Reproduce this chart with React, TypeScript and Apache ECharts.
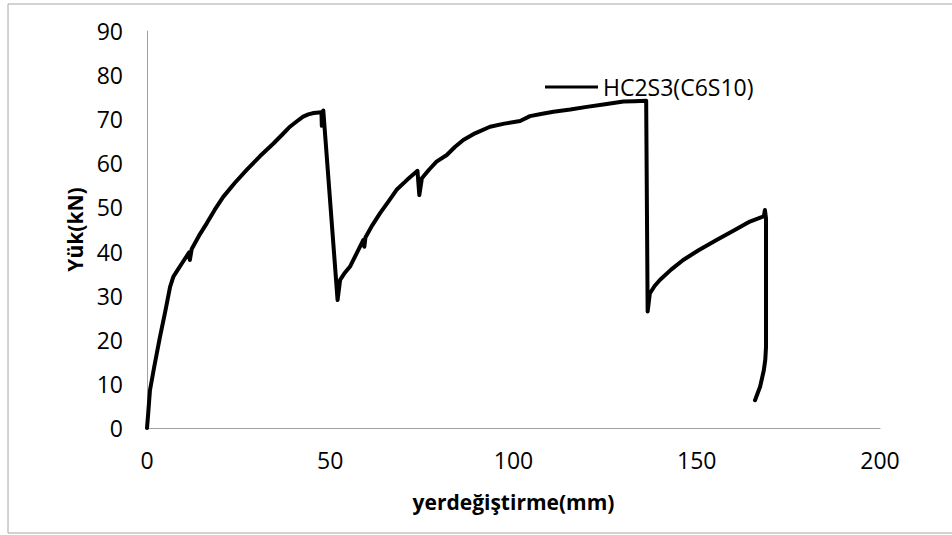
import React, { useEffect, useRef } from "react";
import * as echarts from "echarts";

const seriesName = "HC2S3(C6S10)";
const xTicks = [0, 50, 100, 150, 200];
const yTicks = [0, 10, 20, 30, 40, 50, 60, 70, 80, 90];

// displacement (mm)
const dispValues = [
  0, 0.3, 0.8, 2.0, 3.5, 5.0, 6.3, 7.2, 9.5, 11.5, 11.7, 12.2, 14.2, 16.3, 18.5, 20.8, 24, 27.2, 30.8, 34.5, 37, 39.0, 41, 42.6, 44, 45.5, 47.6, 47.7, 48.1,
  52.0, 52.7, 54, 55.4, 57.2, 59.0, 59.3, 59.6, 61.5, 63.6, 66, 68.1, 70.9, 73.8, 74.3, 75.0, 77, 79.0, 81.8, 84, 86.3, 89.5, 93.6, 97.5, 101.8, 104.5, 107.5, 110.9, 115.5, 120.0, 125, 130.0, 133, 136.2,
  136.6, 137.2, 138.5, 140.0, 143, 146.3, 150.5, 155.4, 160, 164.5, 166.8, 168.3, 168.6, 168.9, 168.9, 168.9, 168.7, 168.3, 167.3, 165.9,
];
// load (kN)
const loadValues = [
  0, 3, 8.5, 14.0, 20.5, 26.5, 32.0, 34.3, 37.3, 39.8, 38.1, 40.6, 43.6, 46.4, 49.5, 52.4, 55.6, 58.5, 61.6, 64.5, 66.6, 68.3, 69.6, 70.6, 71.1, 71.4, 71.6, 68.5, 72.0,
  29.0, 33.6, 35.2, 36.6, 39.6, 42.6, 41.1, 43.2, 46.0, 48.7, 51.5, 54.0, 56.2, 58.3, 52.8, 56.6, 58.6, 60.4, 61.9, 63.7, 65.3, 66.8, 68.3, 69.0, 69.6, 70.7, 71.2, 71.7, 72.2, 72.8, 73.4, 74.0, 74.1, 74.2,
  26.4, 30.5, 32.2, 33.6, 35.9, 38.1, 40.3, 42.6, 44.7, 46.8, 47.5, 48.0, 49.4, 47.5, 30.0, 18.4, 15.5, 13.1, 9.4, 6.3,
];

export default function App() {
  const ref = useRef<HTMLDivElement>(null);
  useEffect(() => {
    if (!ref.current) return;
    const chart = echarts.init(ref.current, null, { renderer: "svg" });
    const font = "'Open Sans', sans-serif";
    const data = dispValues.map((x, i) => [x, loadValues[i]]);
    chart.setOption({
      animation: false,
      backgroundColor: "#ffffff",
      graphic: [
        {
          type: "rect",
          shape: { x: 8, y: 4, width: 960, height: 529 },
          style: { fill: "none", stroke: "#a6a6a6", lineWidth: 1 },
          silent: true,
        },
      ],
      grid: { left: 147, right: 72, top: 31, bottom: 107, containLabel: false },
      legend: {
        data: [seriesName],
        left: 540,
        top: 67,
        icon: "rect",
        itemWidth: 53,
        itemHeight: 3,
        itemGap: 6,
        textStyle: { fontFamily: font, fontSize: 23, color: "#000", lineHeight: 30 },
      },
      xAxis: {
        type: "value",
        min: xTicks[0],
        max: xTicks[xTicks.length - 1],
        interval: 50,
        name: "yerdeğiştirme(mm)",
        nameLocation: "middle",
        nameGap: 63,
        nameTextStyle: { fontFamily: font, fontSize: 21, fontWeight: "bold", color: "#000" },
        axisLine: { show: true, lineStyle: { color: "#a0a0a0", width: 1 } },
        axisTick: { show: false },
        splitLine: { show: false },
        axisLabel: { fontFamily: font, fontSize: 23, color: "#000", margin: 20 },
      },
      yAxis: {
        type: "value",
        min: yTicks[0],
        max: yTicks[yTicks.length - 1],
        interval: 10,
        name: "Yük(kN)",
        nameLocation: "middle",
        nameGap: 58,
        nameTextStyle: { fontFamily: font, fontSize: 21, fontWeight: "bold", color: "#000" },
        axisLine: { show: true, lineStyle: { color: "#a0a0a0", width: 1 } },
        axisTick: { show: false },
        splitLine: { show: false },
        axisLabel: { fontFamily: font, fontSize: 23, color: "#000", margin: 24 },
      },
      series: [
        {
          name: seriesName,
          type: "line",
          data,
          showSymbol: false,
          symbol: "none",
          color: "#000000",
          lineStyle: { color: "#000000", width: 4, join: "round", cap: "round" },
        },
      ],
    });
    return () => chart.dispose();
  }, []);
  return <div ref={ref} style={{ position: "absolute", left: 0, top: 0, width: 952, height: 535 }} />;
}
